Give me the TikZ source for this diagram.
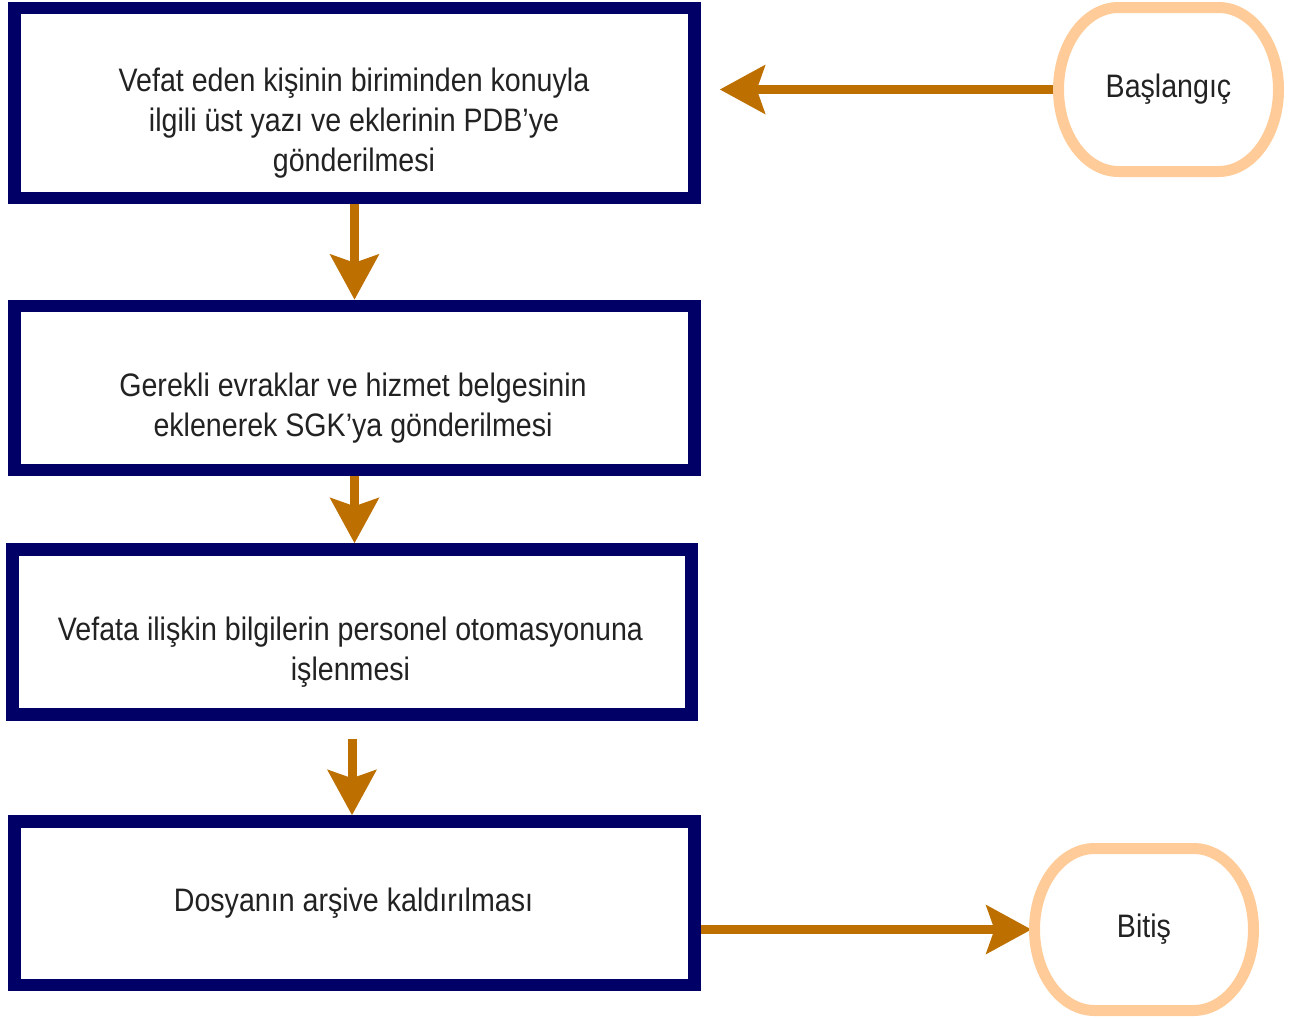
\documentclass[tikz,border=0pt]{standalone}
\usepackage{fontspec}
\setmainfont{Liberation Sans}[FakeStretch=0.88]
\usetikzlibrary{arrows.meta,calc}
\definecolor{navy}{HTML}{000066}
\definecolor{arrowc}{HTML}{BD7000}
\definecolor{peach}{HTML}{FFCC99}
\definecolor{txtc}{HTML}{222222}
\begin{document}
\begin{tikzpicture}[x=1pt,y=-1pt,
  stepbox/.style={draw=navy, line width=12.5pt, fill=white, minimum width=680pt, inner sep=0pt},
  txt/.style={text=txtc, font=\fontsize{32.5}{40}\selectfont, align=center, inner sep=0pt},
  termnode/.style={txt, minimum width=220pt, minimum height=164pt, outer sep=0pt},
  term/.style={draw=peach, line width=11pt},
  flow/.style={draw=arrowc, line width=9pt, -{Stealth[length=45pt,width=48pt,inset=8pt]}},
]
\useasboundingbox (0,0) rectangle (1298,1018);

% process boxes
\node[stepbox, minimum height=190pt] (b1) at (354.5,103) {};
\node[stepbox, minimum height=164pt] (b2) at (354.5,388) {};
\node[stepbox, minimum width=679pt, minimum height=165pt] (b3) at (352,632) {};
\node[stepbox, minimum height=163.5pt] (b4) at (354.5,903.25) {};

\node[txt] (t1) at (354,123.5) {Vefat eden kişinin biriminden konuyla\\ilgili üst yazı ve eklerinin PDB’ye\\gönderilmesi};
\node[txt] (t2) at (353,408) {Gerekli evraklar ve hizmet belgesinin\\eklenerek SGK’ya gönderilmesi};
\node[txt] (t3) at (350.5,652.5) {Vefata ilişkin bilgilerin personel otomasyonuna\\işlenmesi};
\node[txt] (t4) at (353.5,903) {Dosyanın arşive kaldırılması};

% terminals (text nodes; outlines drawn after arrows)
\node[termnode] (start) at (1168.5,89.5) {Başlangıç};
\node[termnode, minimum width=219pt, minimum height=162pt] (end) at (1144,929.5) {Bitiş};

% connectors
\draw[flow] (start.west) -- ([xshift=19pt]b1.east |- start.west);
\draw[flow] (b1.south) -- (b2.north);
\draw[flow] (b2.south) -- (b2.south |- b3.north);
\draw[flow] ([yshift=-18pt]b3.south) -- (b3.south |- b4.north);
\draw[flow] (b4.east |- end.west) -- ([xshift=-3pt]end.west);

% terminal outlines
\draw[term] ($(start.center)+(-50pt,82pt)$) -- ($(start.center)+(50pt,82pt)$)
  arc[start angle=90,end angle=-90,x radius=60pt,y radius=82pt]
  -- ($(start.center)+(-50pt,-82pt)$)
  arc[start angle=270,end angle=90,x radius=60pt,y radius=82pt] -- cycle;
\draw[term] ($(end.center)+(-49.5pt,81pt)$) -- ($(end.center)+(49.5pt,81pt)$)
  arc[start angle=90,end angle=-90,x radius=60pt,y radius=81pt]
  -- ($(end.center)+(-49.5pt,-81pt)$)
  arc[start angle=270,end angle=90,x radius=60pt,y radius=81pt] -- cycle;
\end{tikzpicture}
\end{document}
